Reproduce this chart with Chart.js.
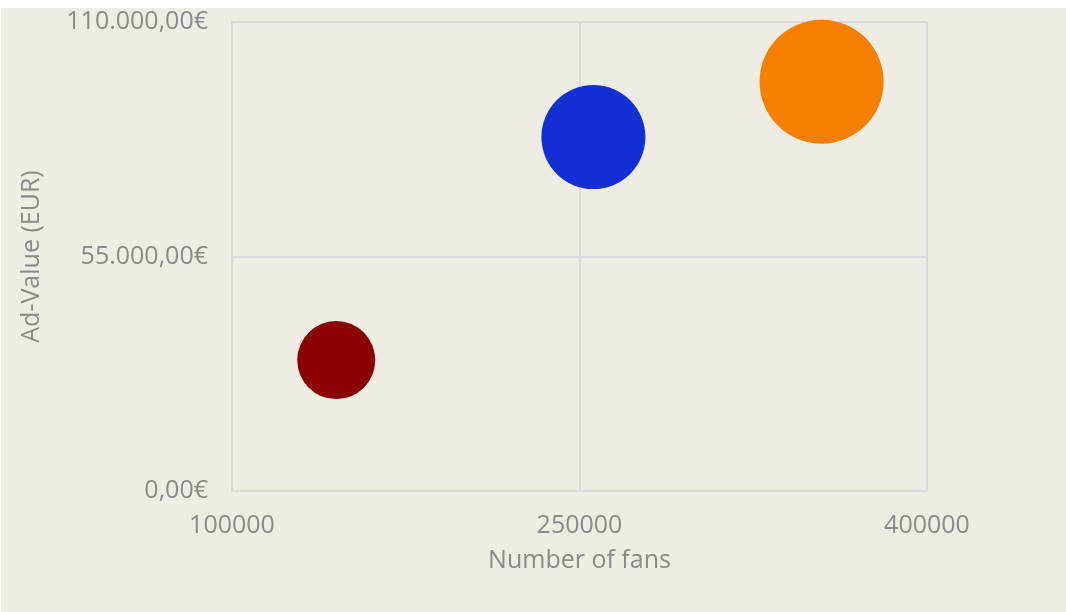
<!DOCTYPE html>
<html>
<head>
<meta charset="utf-8">
<script src="https://cdn.jsdelivr.net/npm/chart.js@4/dist/chart.umd.min.js"></script>
<style>
  html, body { margin: 0; padding: 0; background: #ffffff; }
  #wrap { position: absolute; left: 1px; top: 8px; width: 1065px; height: 604px; background: #efede3; }
</style>
</head>
<body>
<div id="wrap"><canvas id="graph"></canvas></div>
<script>
// bubbles: fans (x), ad value in EUR (y), radius in px
var labels = ["Red", "Blue", "Orange"];
var fans = [145000, 256000, 354500];
var adValue = [30700, 83000, 96000];
var radius = [39, 52, 62];
var couleurs = ["#8b0000", "#1330d4", "#f77f00"];

var xTicks = [100000, 250000, 400000];
var yTicks = [0, 55000, 110000];

var datasets = [];
for (let i = 0; i < labels.length; i++) {
  datasets.push({
    label: labels[i],
    data: [{ x: fans[i], y: adValue[i], r: radius[i] }],
    backgroundColor: couleurs[i],
    borderWidth: 0,
    hoverBorderWidth: 0,
    clip: false,
  });
}

function euro(v) {
  return v.toLocaleString("de-DE", { minimumFractionDigits: 2, maximumFractionDigits: 2 }) + "€";
}

var police = { family: "'Open Sans', sans-serif", size: 25, weight: 400 };
var gris = "#8a8a8a";
var grille = "#d9d9d9";

var ctx = document.getElementById("graph").getContext("2d");

var config = {
  type: "bubble",
  data: { datasets: datasets },
  options: {
    responsive: true,
    maintainAspectRatio: false,
    animation: false,
    layout: { autoPadding: false, padding: { left: 12, right: 139, top: 14, bottom: 32 } },
    plugins: { legend: { display: false }, tooltip: { enabled: false } },
    scales: {
      x: {
        type: "linear",
        min: xTicks[0],
        max: xTicks[xTicks.length - 1],
        afterBuildTicks: function (s) { s.ticks = xTicks.map(function (v) { return { value: v }; }); },
        afterFit: function (s) { s.height = 89; },
        ticks: { color: gris, font: police, padding: 20, maxRotation: 0, callback: function (v) { return String(v); } },
        grid: { color: grille, lineWidth: 2, drawTicks: false },
        border: { color: grille, width: 2 },
        title: { display: true, text: "Number of fans", color: gris, font: police, padding: 4 },
      },
      y: {
        type: "linear",
        min: yTicks[0],
        max: yTicks[yTicks.length - 1],
        afterBuildTicks: function (s) { s.ticks = yTicks.map(function (v) { return { value: v }; }); },
        afterFit: function (s) { s.width = 219; s.paddingTop = 0; s.paddingBottom = 0; },
        ticks: { color: gris, font: police, padding: 24, callback: function (v) { return euro(v); } },
        grid: { color: grille, lineWidth: 2, drawTicks: false },
        border: { color: grille, width: 2 },
        title: { display: true, text: "Ad-Value (EUR)", color: gris, font: police, padding: 4 },
      },
    },
  },
};

var graph = new Chart(ctx, config);
</script>
</body>
</html>
